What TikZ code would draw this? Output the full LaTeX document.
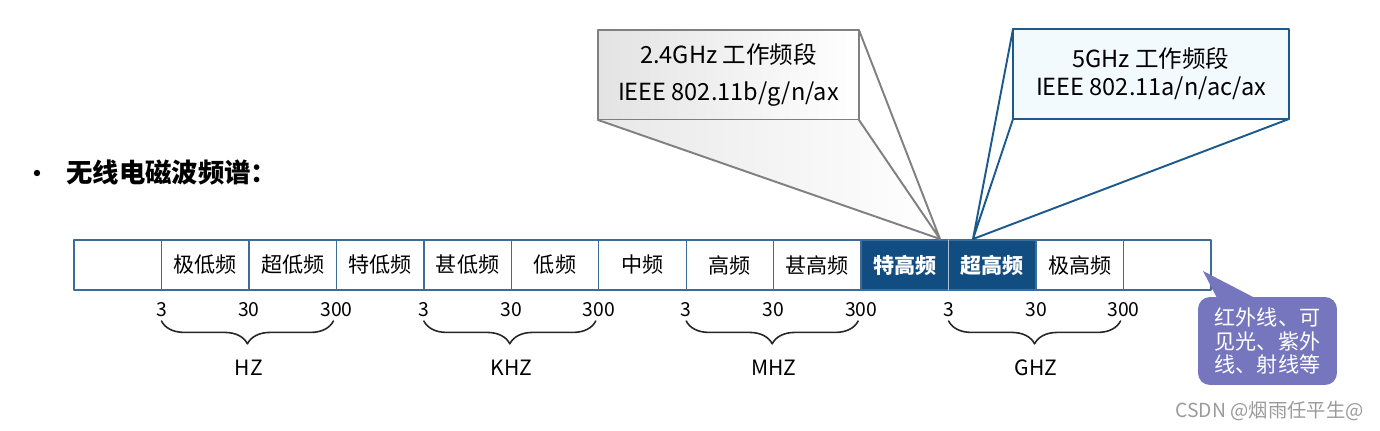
\documentclass[tikz,border=0pt]{standalone}
\usepackage{fontspec}
\setmainfont{Noto Sans CJK SC}
\usetikzlibrary{calc,decorations.pathreplacing}
\definecolor{bandblue}{HTML}{114D80}
\definecolor{bandline}{HTML}{3C6C9A}
\definecolor{calloutgray}{HTML}{808080}
\definecolor{calloutblue}{HTML}{1D5A8C}
\definecolor{calloutfill}{HTML}{F3FAFE}
\definecolor{notepurple}{HTML}{7676BE}
\definecolor{markgray}{HTML}{9A9A9A}
\tikzset{
every picture/.style={line cap=round,line join=round},
band cell/.style={
  draw=bandline,
  line width=0.8pt,
  minimum width=1.749cm,
  minimum height=1cm,
  inner sep=0pt,
  outer sep=0pt,
  font=\fontsize{12}{14}\selectfont
},
band dark/.style={band cell, fill=bandblue, text=white, font=\fontsize{12}{14}\selectfont\bfseries},
band split/.style={draw=bandblue!35!white, line width=0.6pt},
num label/.style={font=\fontsize{11}{13}\selectfont, inner sep=0pt},
unit label/.style={font=\fontsize{12}{14}\selectfont, inner sep=0pt},
unit brace/.style={draw=black!85, line width=0.9pt, decorate,
  decoration={brace,mirror,amplitude=13pt}},
heading/.style={font=\fontsize{15}{17}\selectfont\bfseries, inner sep=0pt},
gray callout/.style={
  draw=calloutgray, line width=1.1pt,
  left color=black!11, right color=white,
  minimum width=5.22cm, minimum height=1.8cm,
  outer sep=0pt, align=center,
  font=\fontsize{13.4}{21}\selectfont
},
gray edge/.style={draw=calloutgray, line width=1.1pt},
gray wedge/.style={left color=black!9, right color=white},
blue callout/.style={
  draw=calloutblue, line width=1.1pt, fill=calloutfill,
  minimum width=5.52cm, minimum height=1.8cm,
  outer sep=0pt, align=center,
  font=\fontsize{13.4}{16}\selectfont
},
blue edge/.style={draw=calloutblue, line width=1.1pt},
note box/.style={
  fill=notepurple, rounded corners=0.24cm,
  minimum width=2.78cm, minimum height=1.76cm,
  outer sep=0pt, align=center, text=white,
  font=\fontsize{12}{13.6}\selectfont
},
mark label/.style={text=markgray, font=\fontsize{11}{13}\selectfont, inner sep=0pt}
}

\begin{document}
\begin{tikzpicture}[x=0.02cm,y=-0.02cm]
\useasboundingbox (0,0) rectangle (1380,431);
% heading
\fill (37,173) circle (3.2);
\node[heading, anchor=west] (heading) at (66,172) {无线电磁波频谱：};

% frequency bands
\foreach \i/\txt/\sty in {0//band cell,1/极低频/band cell,2/超低频/band cell,3/特低频/band cell,
  4/甚低频/band cell,5/低频/band cell,6/中频/band cell,7/高频/band cell,8/甚高频/band cell,
  9/特高频/band dark,10/超高频/band dark,11/极高频/band cell,12//band cell} {
\node[\sty] (c\i) at ({117.73+87.46*\i},265) {\txt};
}
\draw[band split] (c9.north east) -- (c9.south east);

% scale numbers, braces and units
\foreach \b/\unit in {1/HZ,4/KHZ,7/MHZ,10/GHZ} {
\pgfmathtruncatemacro{\m}{\b+1}
\pgfmathtruncatemacro{\e}{\b+2}
\node[num label] (lo\b) at ($(c\b.south west)+(0,20)$) {3};
\node[num label] (mid\b) at ($(c\m.south west)+(0,20)$) {30};
\node[num label] (hi\b) at ($(c\e.south west)+(0,20)$) {300};
\draw[unit brace] ($(c\b.south west)+(0,31)$) -- ($(c\e.south west)+(-3,31)$);
\node[unit label] (u\b) at ($(c\m.south west)+(0,78)$) {\unit};
}

% 2.4GHz callout
\coordinate (tip24) at (940,239);
\node[gray callout] (g24) at (728.5,75) {2.4GHz 工作频段\\IEEE 802.11b/g/n/ax};
\fill[gray wedge] (g24.south west) -- (g24.south east) -- (tip24) -- cycle;
\draw[gray edge] (g24.south west) -- (tip24) -- (g24.north east)
  (g24.south east) -- (tip24);

% 5GHz callout
\coordinate (tip5) at (973,239);
\node[blue callout] (g5) at (1151,74) {5GHz 工作频段\\IEEE 802.11a/n/ac/ax};
\draw[blue edge] (g5.north west) -- (tip5) -- (g5.south east)
  (g5.south west) -- (tip5);

% note beyond the bands
\coordinate (notetip) at (1203,271);
\node[note box] (note) at (1267.5,341) {红外线、可\\见光、紫外\\线、射线等};
\fill[notepurple] ($(note.north west)+(19,1)$) -- (notetip) -- ($(note.north west)+(57,1)$) -- cycle;

\node[mark label, anchor=east] (csdn) at (1364,411) {CSDN @烟雨任平生@};
\end{tikzpicture}
\end{document}
